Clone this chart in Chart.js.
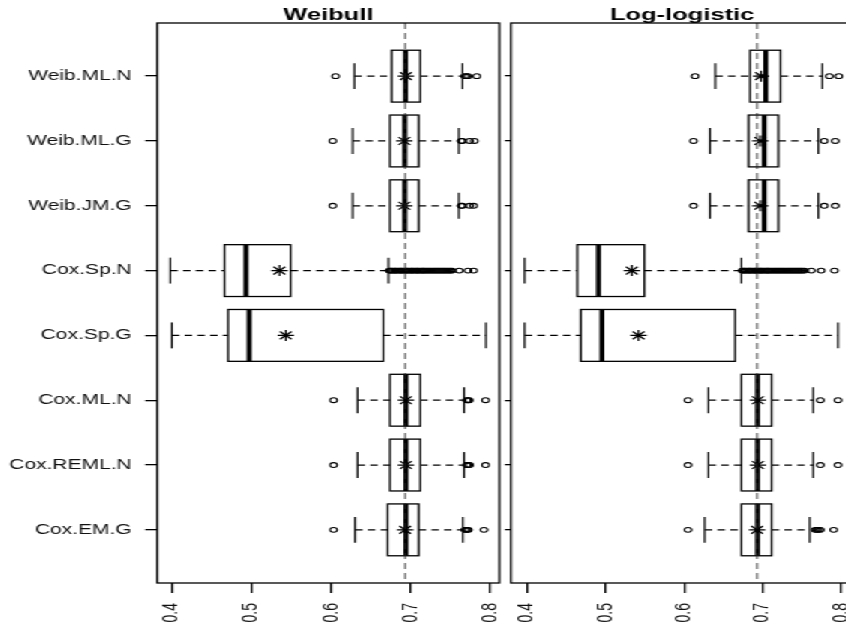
<!DOCTYPE html>
<html>
<head>
<meta charset="utf-8">
<script src="https://cdn.jsdelivr.net/npm/chart.js@4.4.1/dist/chart.umd.min.js"></script>
<style>
  html, body { margin: 0; padding: 0; background: #fff; overflow: hidden; width: 846px; height: 629px; }
  /* the reference is stretched sideways by about 1.5, so draw narrow and stretch */
  #stage { position: absolute; left: 0; top: 0; width: 600px; height: 629px; transform: scaleX(1.5); transform-origin: 0 0; }
  .panel { position: absolute; top: 0; height: 629px; }
  #left { left: 0; width: 345px; }
  #right { left: 334px; width: 247px; }
</style>
</head>
<body>
<div id="stage">
  <div class="panel" id="left"><canvas id="weibull"></canvas></div>
  <div class="panel" id="right"><canvas id="loglogistic"></canvas></div>
</div>
<script>
const categories = ['Weib.ML.N', 'Weib.ML.G', 'Weib.JM.G', 'Cox.Sp.N', 'Cox.Sp.G', 'Cox.ML.N', 'Cox.REML.N', 'Cox.EM.G'];
const panelTitles = ['Weibull', 'Log-logistic'];
const xTickValues = [0.4, 0.5, 0.6, 0.7, 0.8];
const xTickLabels = ['0.4', '0.5', '0.6', '0.7', '0.8'];
const refValue = 0.693; // log(2)

// Weibull panel
const weibLow    = [0.629, 0.627, 0.627, 0.398, 0.400, 0.633, 0.633, 0.630];
const weibQ1     = [0.676, 0.674, 0.674, 0.466, 0.4705, 0.674, 0.674, 0.671];
const weibMedian = [0.6935, 0.6925, 0.6925, 0.493, 0.497, 0.694, 0.694, 0.694];
const weibQ3     = [0.712, 0.710, 0.710, 0.549, 0.6655, 0.712, 0.712, 0.710];
const weibHigh   = [0.765, 0.7605, 0.7605, 0.672, 0.7945, 0.767, 0.767, 0.7655];
const weibMean   = [0.694, 0.692, 0.692, 0.535, 0.543, 0.694, 0.694, 0.693];
const weibOutliers = [
  [0.6055, 0.768, 0.770, 0.772, 0.783],
  [0.602, 0.7635, 0.765, 0.774, 0.780],
  [0.602, 0.7635, 0.765, 0.774, 0.779],
  [0.673, 0.675, 0.676, 0.678, 0.680, 0.681, 0.683, 0.685, 0.687, 0.688, 0.690, 0.692, 0.694, 0.695,
   0.697, 0.699, 0.701, 0.702, 0.704, 0.706, 0.708, 0.709, 0.711, 0.713, 0.715, 0.716, 0.718, 0.720,
   0.722, 0.724, 0.726, 0.728, 0.730, 0.732, 0.734, 0.736, 0.738, 0.740, 0.742, 0.744, 0.746, 0.748,
   0.750, 0.752, 0.761, 0.772, 0.779],
  [],
  [0.603, 0.7705, 0.772, 0.7735, 0.794],
  [0.603, 0.7705, 0.772, 0.774, 0.794],
  [0.603, 0.768, 0.7695, 0.771, 0.7725, 0.792]
];

// Log-logistic panel
const llLow    = [0.6397, 0.633, 0.633, 0.397, 0.397, 0.631, 0.631, 0.6263];
const llQ1     = [0.684, 0.682, 0.682, 0.464, 0.4685, 0.673, 0.673, 0.673];
const llMedian = [0.704, 0.702, 0.702, 0.491, 0.4953, 0.6935, 0.6935, 0.6935];
const llQ3     = [0.7228, 0.720, 0.720, 0.5495, 0.665, 0.7115, 0.7115, 0.7115];
const llHigh   = [0.776, 0.771, 0.771, 0.673, 0.796, 0.7644, 0.7644, 0.760];
const llMean   = [0.698, 0.697, 0.697, 0.5335, 0.542, 0.694, 0.694, 0.693];
const llOutliers = [
  [0.614, 0.785, 0.797],
  [0.612, 0.7785, 0.7925],
  [0.612, 0.7785, 0.7925],
  [0.674, 0.676, 0.677, 0.679, 0.681, 0.683, 0.684, 0.686, 0.688, 0.690, 0.691, 0.693, 0.695, 0.697,
   0.698, 0.700, 0.702, 0.704, 0.706, 0.707, 0.709, 0.711, 0.713, 0.715, 0.717, 0.719, 0.721, 0.723,
   0.725, 0.727, 0.729, 0.731, 0.733, 0.735, 0.737, 0.739, 0.741, 0.743, 0.745, 0.747, 0.749, 0.751,
   0.7535, 0.762, 0.7745, 0.7915],
  [],
  [0.605, 0.7735, 0.796],
  [0.605, 0.7735, 0.796],
  [0.605, 0.767, 0.769, 0.771, 0.7735, 0.7905]
];

const FONT = "'Liberation Sans', Arial, Helvetica, sans-serif";
const BOX_HALF = 0.4;   // half box height, in category units
const CAP_HALF = 0.2;   // half staple height

function seg(ctx, x1, y1, x2, y2) {
  ctx.beginPath();
  ctx.moveTo(x1, y1);
  ctx.lineTo(x2, y2);
  ctx.stroke();
}

// boxes, whiskers, staples and medians, placed through the chart scales
const boxplotPlugin = {
  id: 'boxplot',
  beforeDatasetsDraw(chart, args, opts) {
    const {ctx, scales: {x, y}} = chart;
    const s = opts.stats;
    ctx.save();
    ctx.strokeStyle = '#000';
    s.median.forEach((m, i) => {
      const yc = y.getPixelForValue(i + 1);
      const yTop = y.getPixelForValue(i + 1 - BOX_HALF);
      const yBot = y.getPixelForValue(i + 1 + BOX_HALF);
      const cTop = y.getPixelForValue(i + 1 - CAP_HALF);
      const cBot = y.getPixelForValue(i + 1 + CAP_HALF);
      const xLo = x.getPixelForValue(s.low[i]);
      const xQ1 = x.getPixelForValue(s.q1[i]);
      const xMed = x.getPixelForValue(m);
      const xQ3 = x.getPixelForValue(s.q3[i]);
      const xHi = x.getPixelForValue(s.high[i]);

      ctx.lineWidth = 1.2;
      ctx.setLineDash([5, 3.5]);
      seg(ctx, xLo, yc, xQ1, yc);
      seg(ctx, xQ3, yc, xHi, yc);
      ctx.setLineDash([]);
      seg(ctx, xLo, cTop, xLo, cBot);
      seg(ctx, xHi, cTop, xHi, cBot);
      ctx.lineWidth = 1.3;
      ctx.strokeRect(xQ1, yTop, xQ3 - xQ1, yBot - yTop);
      ctx.lineWidth = 3.3;
      seg(ctx, xMed, yTop, xMed, yBot);
    });
    ctx.restore();
  }
};

// frame around the plot and the dashed reference line
const framePlugin = {
  id: 'frame',
  afterDatasetsDraw(chart) {
    const {ctx, chartArea: a, scales: {x}} = chart;
    ctx.save();
    ctx.strokeStyle = '#222';
    ctx.lineWidth = 0.9;
    ctx.setLineDash([6, 4]);
    const xr = x.getPixelForValue(refValue);
    seg(ctx, xr, a.top, xr, a.bottom);
    ctx.setLineDash([]);
    ctx.strokeStyle = '#000';
    ctx.lineWidth = 1.3;
    ctx.strokeRect(a.left, a.top, a.right - a.left, a.bottom - a.top);
    ctx.restore();
  }
};

// title centred over the plot region
const panelTitlePlugin = {
  id: 'panelTitle',
  afterDraw(chart, args, opts) {
    const {ctx, chartArea: a} = chart;
    ctx.save();
    ctx.font = 'bold 17px ' + FONT;
    ctx.fillStyle = '#000';
    ctx.textAlign = 'center';
    ctx.textBaseline = 'alphabetic';
    ctx.fillText(opts.text, (a.left + a.right) / 2, a.top - 3);
    ctx.restore();
  }
};

function makePanel(id, title, stats, xMin, xMax, showLabels) {
  const ctx = document.getElementById(id).getContext('2d');
  return new Chart(ctx, {
    type: 'scatter',
    data: {
      datasets: [{
        label: 'outliers',
        data: stats.outliers.flatMap((vals, i) => vals.map(v => ({x: v, y: i + 1}))),
        pointStyle: 'circle',
        pointRadius: 2.4,
        pointBorderWidth: 1.1,
        pointBorderColor: '#000',
        pointBackgroundColor: 'rgba(0,0,0,0)'
      }, {
        label: 'mean',
        data: stats.mean.map((v, i) => ({x: v, y: i + 1})),
        pointStyle: 'star',
        pointRadius: 5.5,
        pointBorderWidth: 1.2,
        pointBorderColor: '#000',
        pointBackgroundColor: '#000'
      }]
    },
    plugins: [boxplotPlugin, framePlugin, panelTitlePlugin],
    options: {
      responsive: true,
      maintainAspectRatio: false,
      animation: false,
      events: [],
      layout: { padding: { top: 23, right: 12, bottom: 0, left: 0 } },
      plugins: {
        legend: { display: false },
        tooltip: { enabled: false },
        boxplot: { stats: stats },
        panelTitle: { text: title }
      },
      scales: {
        x: {
          type: 'linear',
          min: xMin,
          max: xMax,
          afterBuildTicks: s => { s.ticks = xTickValues.map(v => ({value: v})); },
          afterFit: s => { s.height = 46; s.paddingLeft = 0; s.paddingRight = 0; },
          border: { display: false },
          grid: { drawOnChartArea: false, drawTicks: true, tickLength: 10, color: '#000', lineWidth: 1.3 },
          ticks: {
            autoSkip: false, minRotation: 90, maxRotation: 90, padding: 10,
            color: '#111', font: { family: FONT, size: 14 },
            callback: (v, i) => xTickLabels[i]
          }
        },
        y: {
          type: 'linear',
          reverse: true,
          min: 0.18,
          max: 8.82,
          afterBuildTicks: s => { s.ticks = categories.map((c, i) => ({value: i + 1})); },
          afterFit: s => { s.width = showLabels ? 104.7 : 4; },
          border: { display: false },
          grid: { drawOnChartArea: false, drawTicks: true, tickLength: showLabels ? 8 : 4, color: '#000', lineWidth: 1.3 },
          ticks: {
            display: showLabels, padding: 9,
            color: '#111', font: { family: FONT, size: 14 },
            callback: (v, i) => categories[i]
          }
        }
      }
    }
  });
}

makePanel('weibull', panelTitles[0], {
  low: weibLow, q1: weibQ1, median: weibMedian, q3: weibQ3, high: weibHigh,
  mean: weibMean, outliers: weibOutliers
}, 0.3816, 0.8113, true);

makePanel('loglogistic', panelTitles[1], {
  low: llLow, q1: llQ1, median: llMedian, q3: llQ3, high: llHigh,
  mean: llMean, outliers: llOutliers
}, 0.3795, 0.8155, false);
</script>
</body>
</html>
